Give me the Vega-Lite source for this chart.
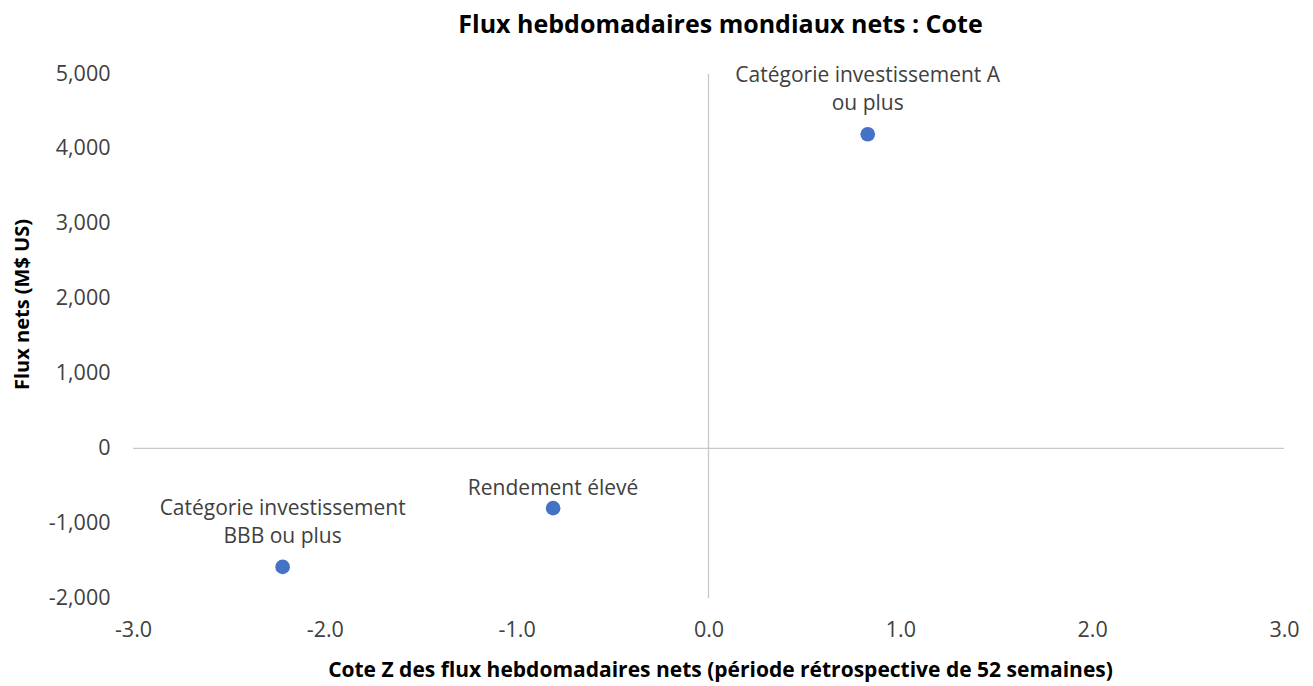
{
  "$schema": "https://vega.github.io/schema/vega-lite/v6.json",
  "autosize": "none",
  "width": 1151,
  "height": 524,
  "padding": {"left": 133, "top": 74, "right": 29, "bottom": 88},
  "background": "white",
  "title": {
    "text": "Flux hebdomadaires mondiaux nets : Cote",
    "font": "Open Sans",
    "fontSize": 25,
    "fontWeight": "bold",
    "color": "#000000",
    "anchor": "middle",
    "dx": 12,
    "offset": 25
  },
  "config": {
    "view": {"stroke": null},
    "axis": {
      "grid": false,
      "domain": false,
      "ticks": false,
      "labelFont": "Open Sans",
      "labelFontSize": 21.5,
      "labelColor": "#404040",
      "labelFlush": false,
      "titleFont": "Open Sans",
      "titleFontSize": 20,
      "titleFontWeight": "bold",
      "titleColor": "#000000"
    }
  },
  "datasets": {
    "pts": [
      {"z": 0.83, "flux": 4195, "label": "Catégorie investissement A\nou plus"},
      {"z": -0.81, "flux": -800, "label": "Rendement élevé"},
      {"z": -2.22, "flux": -1585, "label": "Catégorie investissement\nBBB ou plus"}
    ],
    "zero": [{"v": 0}]
  },
  "layer": [
    {
      "data": {"name": "zero"},
      "mark": {"type": "rule", "color": "#C8C8C8", "strokeWidth": 1.3},
      "encoding": {"y": {"field": "v", "type": "quantitative"}}
    },
    {
      "data": {"name": "zero"},
      "mark": {"type": "rule", "color": "#C8C8C8", "strokeWidth": 1.3},
      "encoding": {"x": {"field": "v", "type": "quantitative"}}
    },
    {
      "data": {"name": "pts"},
      "mark": {"type": "circle", "color": "#4472C4", "opacity": 1, "size": 215},
      "encoding": {
        "x": {
          "field": "z", "type": "quantitative",
          "scale": {"domain": [-3, 3], "nice": false, "zero": false},
          "axis": {
            "values": [-3, -2, -1, 0, 1, 2, 3],
            "labelExpr": "replace(format(datum.value, '.1f'), '\u2212', '-')",
            "labelPadding": 21,
            "title": "Cote Z des flux hebdomadaires nets (période rétrospective de 52 semaines)",
            "titleFontSize": 21,
            "titleX": 587,
            "titleY": 72,
            "titleBaseline": "middle"
          }
        },
        "y": {
          "field": "flux", "type": "quantitative",
          "scale": {"domain": [-2000, 5000], "nice": false, "zero": false},
          "axis": {
            "values": [-2000, -1000, 0, 1000, 2000, 3000, 4000, 5000],
            "labelExpr": "replace(format(datum.value, ',.0f'), '\u2212', '-')",
            "labelPadding": 23,
            "title": "Flux nets (M$ US)",
            "titleX": -111,
            "titleY": 230,
            "titleBaseline": "middle"
          }
        }
      }
    },
    {
      "data": {"name": "pts"},
      "transform": [{"filter": "indexof(datum.label, '\\n') >= 0"}],
      "mark": {
        "type": "text",
        "font": "Open Sans",
        "fontSize": 21,
        "color": "#404040",
        "baseline": "middle",
        "lineBreak": "\n",
        "lineHeight": 28,
        "dy": -58
      },
      "encoding": {
        "x": {"field": "z", "type": "quantitative"},
        "y": {"field": "flux", "type": "quantitative"},
        "text": {"field": "label", "type": "nominal"}
      }
    },
    {
      "data": {"name": "pts"},
      "transform": [{"filter": "indexof(datum.label, '\\n') < 0"}],
      "mark": {
        "type": "text",
        "font": "Open Sans",
        "fontSize": 21,
        "color": "#404040",
        "baseline": "middle",
        "dy": -19
      },
      "encoding": {
        "x": {"field": "z", "type": "quantitative"},
        "y": {"field": "flux", "type": "quantitative"},
        "text": {"field": "label", "type": "nominal"}
      }
    }
  ]
}
